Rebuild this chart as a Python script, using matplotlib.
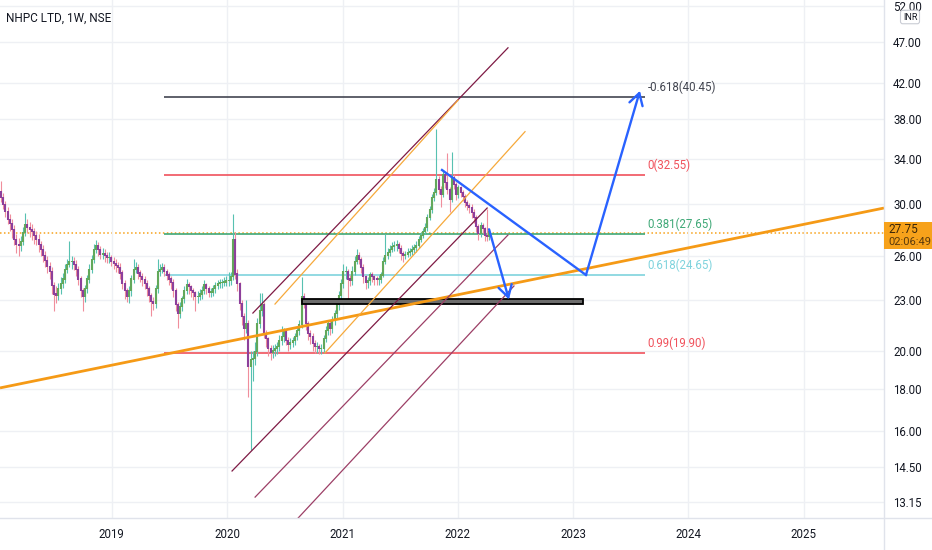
import matplotlib
matplotlib.use('Agg')
import matplotlib.pyplot as plt
from matplotlib import font_manager
from matplotlib.patches import Rectangle
from matplotlib.lines import Line2D
from matplotlib.ticker import FixedLocator, NullLocator
import matplotlib.dates as mdates
import pandas as pd

# --- weekly candles, NHPC LTD (NSE) ---
first_open = 31.0
closes = [
    30.55, 29.96, 29.4, 28.75, 28.4, 27.96, 27.2, 26.83, 26.7, 27.0,
    27.7, 28.35, 28.1, 27.96, 27.8, 27.5, 27.2, 26.83, 26.46, 26.0,
    25.67, 25.25, 24.9, 23.9, 23.37, 23.3, 23.7, 24.03, 24.36, 25.04,
    25.39, 25.6, 25.6, 25.39, 25.04, 24.36, 23.57, 23.2, 23.7, 24.36,
    25.04, 25.74, 26.46, 26.75, 26.46, 26.1, 26.17, 26.03, 25.88, 25.88,
    25.6, 25.46, 25.32, 25.18, 24.77, 24.03, 23.57, 23.24, 23.57, 24.36,
    25.04, 25.18, 24.77, 24.5, 24.3, 24.03, 23.7, 23.3, 22.87, 22.74,
    23.7, 24.9, 25.04, 25.18, 24.9, 24.63, 24.36, 24.1, 23.57, 22.68,
    22.12, 22.55, 23.05, 23.57, 23.97, 23.83, 23.57, 23.44, 23.2, 23.2,
    23.37, 23.57, 23.97, 23.7, 23.5, 23.5, 23.7, 23.9, 24.03, 24.1,
    24.1, 24.16, 24.23, 24.23, 24.5, 27.2, 24.7, 24.03, 22.74, 21.94,
    21.23, 21.52, 19.1, 19.5, 19.55, 19.93, 21.52, 22.3, 22.68, 20.94,
    20.65, 20.09, 19.87, 20.0, 20.09, 20.2, 20.54, 20.76, 21.06, 20.54,
    20.3, 20.42, 20.54, 20.76, 21.12, 21.47, 23.2, 22.9, 21.52, 20.94,
    20.76, 20.37, 20.2, 20.2, 20.09, 20.09, 20.65, 21.12, 21.52, 21.23,
    21.7, 22.12, 22.68, 23.3, 24.03, 24.9, 24.9, 24.36, 24.23, 24.9,
    25.6, 26.03, 25.74, 25.18, 24.5, 24.1, 24.23, 24.63, 24.5, 24.36,
    24.3, 24.36, 24.63, 25.6, 26.03, 26.25, 26.46, 26.68, 26.75, 26.83,
    26.53, 26.17, 26.03, 26.1, 26.25, 26.32, 26.46, 26.6, 26.75, 27.2,
    27.5, 27.8, 28.1, 28.9, 29.55, 30.55, 30.97, 32.1, 31.23, 30.8,
    32.55, 31.83, 31.23, 30.38, 32.28, 31.66, 30.8, 31.4, 30.97, 30.63,
    30.13, 29.88, 29.71, 29.3, 28.9, 28.2, 27.65, 28.27, 28.04, 27.5,
    27.43, 27.75]
highs = [
    32.0, 31.0, 30.3, 29.8, 29.2, 28.8, 28.3, 27.6, 27.3, 27.5,
    28.2, 29.3, 28.8, 28.6, 28.4, 28.1, 27.9, 27.6, 27.1, 26.8,
    26.4, 26.0, 25.6, 25.2, 24.2, 23.9, 24.1, 24.5, 24.8, 25.4,
    25.8, 27.1, 26.0, 25.9, 25.7, 25.3, 24.6, 23.8, 24.0, 24.7,
    25.4, 26.1, 26.9, 27.2, 27.0, 26.7, 26.6, 26.5, 26.3, 26.3,
    26.1, 25.9, 25.8, 25.6, 25.5, 25.0, 24.3, 23.8, 23.9, 24.7,
    25.8, 25.6, 25.4, 25.0, 24.8, 24.6, 24.3, 23.9, 23.5, 23.2,
    24.0, 25.8, 25.4, 25.5, 25.4, 25.1, 24.9, 24.6, 24.4, 23.8,
    22.9, 22.9, 23.3, 23.9, 24.4, 24.2, 24.0, 23.8, 23.6, 23.6,
    23.7, 23.9, 24.3, 24.1, 23.9, 23.8, 24.0, 24.2, 24.3, 24.4,
    24.4, 24.5, 24.6, 24.9, 24.9, 29.2, 27.8, 25.1, 24.2, 23.0,
    22.2, 23.0, 21.8, 20.0, 20.0, 20.5, 21.9, 23.5, 23.5, 22.9,
    21.2, 20.8, 20.3, 20.3, 20.4, 20.5, 20.9, 21.4, 21.3, 21.2,
    20.8, 20.7, 20.8, 21.0, 21.4, 21.8, 24.5, 23.5, 23.1, 21.7,
    21.2, 21.0, 20.6, 20.5, 20.4, 20.4, 20.9, 21.4, 21.8, 21.7,
    22.0, 22.4, 23.0, 23.6, 24.4, 25.4, 25.3, 25.1, 24.7, 25.3,
    26.0, 26.5, 26.3, 25.9, 25.4, 24.7, 24.5, 24.9, 24.9, 24.7,
    24.6, 24.7, 24.9, 25.9, 27.6, 26.6, 26.8, 27.0, 27.1, 27.2,
    27.0, 26.8, 26.4, 26.4, 26.6, 26.6, 26.8, 26.9, 27.1, 27.5,
    27.8, 28.1, 28.5, 29.2, 29.9, 30.9, 31.4, 37.0, 32.5, 31.6,
    33.0, 32.8, 34.6, 31.5, 34.7, 32.6, 31.9, 31.7, 31.6, 31.2,
    30.9, 30.4, 30.1, 30.0, 29.6, 29.1, 28.4, 28.6, 28.5, 28.2,
    29.6, 28.0]
lows = [
    30.2, 29.6, 29.0, 28.4, 27.9, 27.3, 26.8, 26.2, 26.0, 26.4,
    26.8, 27.5, 27.7, 27.4, 27.2, 26.9, 26.8, 26.3, 26.0, 25.6,
    25.2, 24.8, 24.4, 23.4, 22.3, 22.8, 23.0, 23.4, 23.8, 24.1,
    24.8, 25.2, 25.1, 25.0, 24.6, 24.0, 23.2, 22.3, 22.9, 23.5,
    24.1, 24.8, 25.5, 26.2, 26.0, 25.8, 25.8, 25.6, 25.5, 25.5,
    25.3, 25.1, 24.9, 24.8, 24.4, 23.7, 23.1, 22.9, 22.8, 23.3,
    24.1, 24.8, 24.4, 24.2, 23.9, 23.7, 23.3, 22.9, 22.0, 22.4,
    22.5, 23.5, 24.6, 24.8, 24.6, 24.3, 24.0, 23.7, 23.2, 22.3,
    21.3, 21.9, 22.3, 22.8, 23.4, 23.4, 23.2, 23.0, 22.3, 22.8,
    23.0, 23.1, 23.4, 23.4, 23.2, 23.2, 23.3, 23.5, 23.7, 23.8,
    23.8, 23.9, 23.9, 23.9, 24.0, 24.3, 24.4, 23.6, 22.4, 21.5,
    20.6, 21.0, 17.6, 15.2, 18.4, 19.2, 19.7, 21.3, 22.0, 20.7,
    20.2, 19.7, 19.5, 19.6, 19.7, 19.8, 20.0, 20.3, 20.5, 20.3,
    20.0, 20.1, 20.2, 20.3, 20.6, 20.9, 21.3, 22.5, 21.2, 20.6,
    20.4, 20.0, 19.9, 19.9, 19.8, 19.8, 19.9, 20.5, 20.9, 20.9,
    21.0, 21.5, 21.9, 22.4, 23.1, 23.8, 24.4, 23.0, 23.9, 24.0,
    24.7, 25.4, 25.4, 24.8, 24.1, 23.7, 23.8, 24.0, 24.2, 24.0,
    24.0, 24.0, 24.1, 24.5, 25.4, 25.8, 26.0, 26.3, 26.4, 26.4,
    26.2, 25.7, 25.6, 25.8, 25.9, 26.0, 26.1, 26.2, 26.3, 26.6,
    27.0, 27.3, 27.6, 27.9, 28.7, 29.3, 30.3, 30.8, 30.9, 29.8,
    30.6, 31.4, 30.9, 29.4, 30.2, 31.3, 30.4, 30.5, 30.6, 30.3,
    29.8, 29.5, 29.3, 28.9, 28.5, 27.8, 27.2, 27.4, 27.7, 27.1,
    27.1, 27.2]
first_week = '2018-01-15'
last_price = 27.75
countdown = '02:06:49'

# fibonacci retracement levels
fib_levels = [40.45, 32.55, 27.65, 24.65, 19.90]
fib_names = ['-0.618', '0', '0.381', '0.618', '0.99']
fib_span = ('2019-06-16', '2023-08-17')

# drawings: (date, price) end points
trend_line = [('2018-01-12', 18.04), ('2025-09-12', 29.70)]
channel_lines = [
    [('2020-03-23', 22.2), ('2022-06-09', 46.3)],
    [('2020-01-17', 14.33), ('2022-04-04', 29.70)],
    [('2020-03-30', 13.33), ('2022-06-09', 27.56)],
    [('2020-08-10', 12.54), ('2022-06-28', 23.93)],
]
orange_lines = [
    [('2020-06-01', 22.76), ('2022-01-02', 40.05)],
    [('2020-11-06', 19.87), ('2022-08-02', 36.7)],
]
support_zone = ('2020-08-25', '2023-02-02', 22.77, 23.1)
path_long = [('2021-11-12', 33.0), ('2023-02-11', 24.67), ('2023-08-01', 41.1)]
path_short = [('2022-04-10', 28.0), ('2022-06-12', 23.05)]

price_ticks = [13.15, 14.5, 16, 18, 20, 23, 26, 30, 34, 38, 42, 47, 52]
years = [2019, 2020, 2021, 2022, 2023, 2024, 2025]

names = {f.name for f in font_manager.fontManager.ttflist}
FONT = 'Liberation Sans Narrow' if 'Liberation Sans Narrow' in names else 'Roboto'
plt.rcParams['font.family'] = [FONT, 'DejaVu Sans']

W, H = 932, 550
fig = plt.figure(figsize=(W / 100, H / 100), dpi=100)
fig.patch.set_facecolor('white')
ax = fig.add_axes([0, 32 / H, 884 / W, 518 / H])
ax.set_yscale('log')
ax.set_ylim(12.58, 52.86)
ax.set_xlim(pd.Timestamp('2018-01-12'), pd.Timestamp('2025-09-12'))

def ts(d):
    return pd.Timestamp(d)

# grid
ax.set_xticks([ts(f'{y}-01-01') for y in years])
ax.set_xticklabels([str(y) for y in years])
ax.yaxis.set_major_locator(FixedLocator(price_ticks))
ax.yaxis.set_minor_locator(NullLocator())
ax.set_yticklabels([f'{v:.2f}' for v in price_ticks])
ax.yaxis.tick_right()
ax.grid(True, color='#eef0f4', lw=1, zorder=0)
ax.tick_params(axis='y', length=0, pad=6.5, labelsize=8.3, labelcolor='#131722')
ax.tick_params(axis='x', length=0, pad=7, labelsize=8.3, labelcolor='#131722')
for s in ax.spines.values():
    s.set_visible(False)

# last price dotted line
ax.axhline(last_price, color='#f7a21b', ls=(0, (1, 1.6)), lw=1.1, zorder=1)

# fib lines
fib_colors = ['#434651', '#f0525c', '#3fa877', '#7fd3dd', '#f0525c']
for lvl, nm, c in zip(fib_levels, fib_names, fib_colors):
    ax.hlines(lvl, ts(fib_span[0]), ts(fib_span[1]), color=c, lw=1.2, zorder=2)
    ax.annotate(f'{nm}({lvl:.2f})', xy=(ts(fib_span[1]), lvl), xytext=(2, 2),
                textcoords='offset points', ha='left', va='bottom',
                fontsize=8.3, color=c, zorder=6)

# candles
dates = pd.date_range(first_week, periods=len(closes), freq='W-MON')
opens = [first_open] + closes[:-1]
for d, o, h, l, c in zip(dates, opens, highs, lows, closes):
    up = c >= o
    wick = '#57c1b1' if up else '#f08e9c'
    body = '#62a85a' if up else '#8d3f9b'
    ax.vlines(d, min(l, o, c), max(h, o, c), color=wick, lw=0.8, zorder=3)
    ax.vlines(d, min(o, c), max(o, c) * 1.003, color=body, lw=1.5, zorder=3)

# support band
x0, x1 = mdates.date2num(ts(support_zone[0])), mdates.date2num(ts(support_zone[1]))
ax.add_patch(Rectangle((x0, support_zone[2]), x1 - x0, support_zone[3] - support_zone[2],
                       facecolor='#6d6d6d', edgecolor='black', lw=1.3, zorder=4))

# trend and channel lines
ax.plot([ts(p[0]) for p in trend_line], [p[1] for p in trend_line],
        color='#f59a16', lw=2.0, zorder=5, solid_capstyle='butt')
for i, ln in enumerate(channel_lines):
    ax.plot([ts(p[0]) for p in ln], [p[1] for p in ln],
            color='#7e1a44' if i < 2 else '#9c3f66', lw=0.9, zorder=5)
for ln in orange_lines:
    ax.plot([ts(p[0]) for p in ln], [p[1] for p in ln], color='#f6a93b', lw=0.9, zorder=5)

# projected paths
blue = '#2962ff'
arrow = dict(arrowstyle='->,head_length=0.6,head_width=0.35', color=blue, lw=1.7,
             shrinkA=0, shrinkB=0, mutation_scale=14)
ax.plot([ts(p[0]) for p in path_long[:2]], [p[1] for p in path_long[:2]],
        color=blue, lw=1.7, zorder=6)
ax.annotate('', xy=(ts(path_long[2][0]), path_long[2][1]),
            xytext=(ts(path_long[1][0]), path_long[1][1]), arrowprops=arrow, zorder=6)
ax.annotate('', xy=(ts(path_short[1][0]), path_short[1][1]),
            xytext=(ts(path_short[0][0]), path_short[0][1]), arrowprops=arrow, zorder=6)

# frame lines of the price / time scales
fig.add_artist(Line2D([883.5 / W] * 2, [0, 1], color='#e0e3eb', lw=1))
fig.add_artist(Line2D([0, 1], [32 / H] * 2, color='#e0e3eb', lw=1))

# title
fig.text(6 / W, 1 - 18 / H, 'NHPC LTD, 1W, NSE', fontsize=8.5, va='center',
         ha='left', color='#131722')

# last price label on the scale
fig.add_artist(Rectangle((884 / W, 1 - 249 / H), 48 / W, 27 / H,
                         transform=fig.transFigure, facecolor='#f7a21b',
                         edgecolor='none', zorder=5))
fig.text(888 / W, 1 - 229.5 / H, f'{last_price:.2f}', fontsize=8.5, va='center',
         ha='left', color='#3a2608', zorder=6)
fig.text(888 / W, 1 - 242 / H, countdown, fontsize=8, va='center',
         ha='left', color='#5a3a0c', zorder=6)

fig.text(910 / W, 1 - 17 / H, 'INR', fontsize=6.5, va='center', ha='center',
         color='#131722', bbox=dict(boxstyle='round,pad=0.25', fc='white',
                                    ec='#c9ccd4', lw=0.8))

fig.savefig('out.png', dpi=100)
